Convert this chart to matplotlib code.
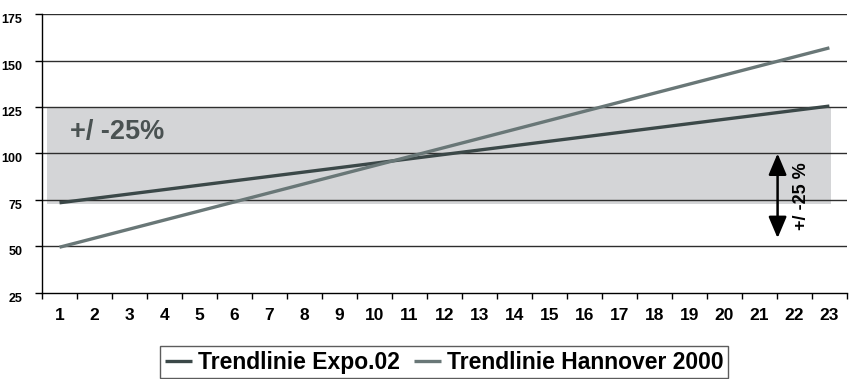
import matplotlib.pyplot as plt
from matplotlib.patches import Rectangle

plt.rcParams['font.family'] = ['Liberation Sans', 'DejaVu Sans']
plt.rcParams['font.weight'] = 'bold'

# categories on the x axis
categories = list(range(1, 24))
# linear trendlines, start (cat 1) and end (cat 23)
trend_x = [1, 23]
expo02 = [73.5, 125.5]
hannover2000 = [49.6, 156.8]
# +/- 25 % corridor
band_low, band_high = 73, 124.5
arrow_from, arrow_to = 100, 54.5

yticks = [25, 50, 75, 100, 125, 150, 175]

fig = plt.figure(figsize=(8.49, 3.79), dpi=100)
ax = fig.add_axes([0.0495, 0.227, 0.948, 0.736])

ax.add_patch(Rectangle((0.64, band_low), 23.06 - 0.64, band_high - band_low,
                       facecolor='#d4d5d7', edgecolor='none', zorder=0))
for y in yticks[1:]:
    ax.axhline(y, color='#2e2e2e', lw=1.0, zorder=1)

ax.plot(trend_x, expo02, color='#3b4848', lw=2.4, solid_capstyle='butt',
        zorder=3, label='Trendlinie Expo.02')
ax.plot(trend_x, hannover2000, color='#697777', lw=2.4, solid_capstyle='butt',
        zorder=3, label='Trendlinie Hannover 2000')

ax.text(1.3, 111.5, '+/ -25%', fontsize=19.5, fontweight='bold',
        color='#4a5252', va='center', ha='left', zorder=4)

ax.annotate('', xy=(21.52, arrow_from), xytext=(21.52, arrow_to),
            arrowprops=dict(arrowstyle='<|-|>,head_length=1.3,head_width=0.55',
                            color='black', lw=1.8, shrinkA=0, shrinkB=0),
            zorder=5)
ax.text(22.2, 77, '+/ -25 %', rotation=90, fontsize=13, fontweight='bold',
        ha='center', va='center', zorder=5)

ax.set_xlim(0.5, 23.5)
ax.set_ylim(25, 175)
ax.set_yticks(yticks)
ax.set_yticklabels([str(v) for v in yticks], fontsize=9, fontweight='bold',
                   va='top')
ax.set_xticks([c - 0.5 for c in categories] + [23.5])
ax.set_xticklabels([])
ax.set_xticks(categories, minor=True)
ax.set_xticklabels([str(c) for c in categories], minor=True,
                   fontsize=12.5, fontweight='bold')
ax.tick_params(axis='x', which='major', length=4, direction='out', width=1)
ax.tick_params(axis='x', which='minor', length=0, pad=11)
ax.tick_params(axis='y', length=5, width=1, pad=9)

for side in ['top', 'right']:
    ax.spines[side].set_visible(False)
ax.spines['left'].set_linewidth(1)
ax.spines['bottom'].set_linewidth(1)

leg = fig.legend(loc='upper center', bbox_to_anchor=(0.523, 0.087),
                 ncol=2, frameon=True, fancybox=False,
                 prop={'weight': 'bold', 'size': 16.5},
                 handlelength=1.2, handletextpad=0.25, columnspacing=0.6,
                 borderpad=0.2, borderaxespad=0)
leg.get_frame().set_edgecolor('#333333')
leg.get_frame().set_linewidth(1)

fig.savefig('out.png', dpi=100)
